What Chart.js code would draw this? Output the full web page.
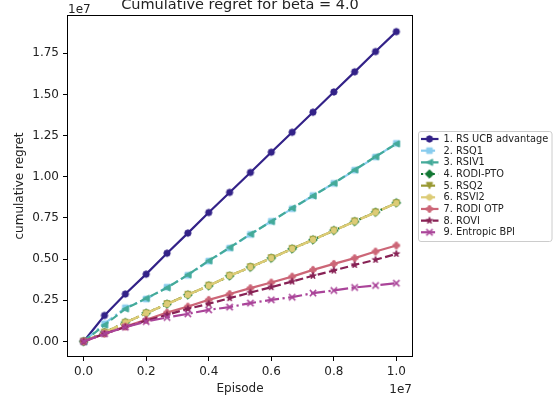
<!DOCTYPE html>
<html>
<head>
<meta charset="utf-8">
<script src="https://cdn.jsdelivr.net/npm/chart.js@4/dist/chart.umd.min.js"></script>
<style>
html,body{margin:0;padding:0;background:#fff;}
#wrap{width:557px;height:402px;position:relative;}
</style>
</head>
<body>
<div id="wrap"><canvas id="c" width="557" height="402"></canvas></div>
<script>
// ---- data (episodes and regret in units of 1e7) ----
const titleText = "Cumulative regret for beta = 4.0";
const xLabel = "Episode";
const yLabel = "cumulative regret";
const episodes = [0, 0.0667, 0.1333, 0.2, 0.2667, 0.3333, 0.4, 0.4667, 0.5333, 0.6, 0.6667, 0.7333, 0.8, 0.8667, 0.9333, 1.0];
const seriesNames = ["1. RS UCB advantage", "2. RSQ1", "3. RSIV1", "4. RODI-PTO", "5. RSQ2", "6. RSVI2", "7. RODI OTP", "8. ROVI", "9. Entropic BPI"];
const rsUcbAdvantage = [0, 0.158, 0.288, 0.409, 0.536, 0.658, 0.783, 0.905, 1.026, 1.149, 1.270, 1.392, 1.515, 1.637, 1.760, 1.881];
const rsq1 = [0, 0.108, 0.205, 0.258, 0.330, 0.402, 0.488, 0.567, 0.650, 0.730, 0.806, 0.886, 0.960, 1.040, 1.120, 1.203];
const rsiv1 = [0, 0.100, 0.198, 0.262, 0.326, 0.405, 0.490, 0.570, 0.652, 0.728, 0.810, 0.884, 0.961, 1.042, 1.122, 1.200];
const rodiPto = [0, 0.056, 0.115, 0.172, 0.227, 0.283, 0.338, 0.398, 0.451, 0.506, 0.562, 0.617, 0.674, 0.728, 0.785, 0.842];
const rsq2 = [0, 0.055, 0.114, 0.171, 0.228, 0.284, 0.339, 0.399, 0.452, 0.507, 0.563, 0.618, 0.673, 0.729, 0.784, 0.840];
const rsvi2 = [0, 0.055, 0.115, 0.172, 0.227, 0.283, 0.338, 0.399, 0.451, 0.506, 0.562, 0.617, 0.674, 0.728, 0.783, 0.840];
const rodiOtp = [0, 0.047, 0.091, 0.132, 0.176, 0.212, 0.253, 0.288, 0.324, 0.358, 0.394, 0.435, 0.471, 0.506, 0.546, 0.583];
const rovi = [0, 0.047, 0.087, 0.127, 0.162, 0.198, 0.229, 0.263, 0.297, 0.330, 0.364, 0.399, 0.431, 0.465, 0.496, 0.532];
const entropicBpi = [0, 0.047, 0.087, 0.121, 0.146, 0.168, 0.192, 0.209, 0.233, 0.253, 0.269, 0.294, 0.310, 0.328, 0.340, 0.354];
const xTicks = [0, 0.2, 0.4, 0.6, 0.8, 1.0];
const yTicks = [0, 0.25, 0.5, 0.75, 1.0, 1.25, 1.5, 1.75];

const seriesValues = [rsUcbAdvantage, rsq1, rsiv1, rodiPto, rsq2, rsvi2, rodiOtp, rovi, entropicBpi];
const colors = ["#332288", "#88CCEE", "#44AA99", "#117733", "#999933", "#DDCC77", "#CC6677", "#882255", "#AA4499"];
const markerShapes = ["circle", "square", "triLeft", "diamond", "triDown", "hexagon", "plus", "star", "x"];
const LW = 2.2;
const dashes = {
  solid: [],
  dashed: [8.1, 3.5],
  dashdot: [14.1, 3.5, 2.2, 3.5],
  dotted: [2.2, 3.6]
};
const lineStyles = ["solid", "dashdot", "dashed", "dotted", "dashdot", "dashdot", "solid", "dashed", "dashdot"];

function makeMarker(shape, color) {
  const S = 14;
  const c = document.createElement('canvas');
  c.width = S; c.height = S;
  const g = c.getContext('2d');
  g.translate(S / 2, S / 2);
  const r = 3.15;
  g.beginPath();
  const poly = (pts) => { pts.forEach((p, i) => i ? g.lineTo(p[0], p[1]) : g.moveTo(p[0], p[1])); g.closePath(); };
  if (shape === 'circle') g.arc(0, 0, r, 0, Math.PI * 2);
  else if (shape === 'square') g.rect(-2.8, -2.8, 5.6, 5.6);
  else if (shape === 'triLeft') poly([[-r, 0], [r, -r], [r, r]]);
  else if (shape === 'triDown') poly([[0, r], [-r, -r], [r, -r]]);
  else if (shape === 'diamond') poly([[0, -4.3], [4.3, 0], [0, 4.3], [-4.3, 0]]);
  else if (shape === 'hexagon') { const p = []; for (let k = 0; k < 6; k++) { const a = Math.PI / 2 + k * Math.PI / 3; p.push([r * Math.cos(a), -r * Math.sin(a)]); } poly(p); }
  else if (shape === 'plus') { const a = r, b = r * 0.38; poly([[-b, -a], [b, -a], [b, -b], [a, -b], [a, b], [b, b], [b, a], [-b, a], [-b, b], [-a, b], [-a, -b], [-b, -b]]); }
  else if (shape === 'star') { const p = []; for (let k = 0; k < 10; k++) { const rr = k % 2 ? r * 0.42 : r * 1.1; const a = Math.PI / 2 + k * Math.PI / 5; p.push([rr * Math.cos(a), -rr * Math.sin(a)]); } poly(p); }
  if (shape === 'x') {
    g.moveTo(-r, -r); g.lineTo(r, r); g.moveTo(-r, r); g.lineTo(r, -r);
    g.strokeStyle = color; g.lineWidth = 1.5; g.stroke();
  } else {
    g.fillStyle = color; g.fill();
    g.strokeStyle = color; g.lineWidth = 1.0; g.stroke();
  }
  return c;
}
const markers = markerShapes.map((s, i) => makeMarker(s, colors[i]));

const datasets = seriesNames.map((name, i) => ({
  label: name,
  data: episodes.map((x, j) => ({ x: x, y: seriesValues[i][j] })),
  borderColor: colors[i],
  backgroundColor: colors[i],
  borderWidth: LW,
  borderDash: dashes[lineStyles[i]],
  pointStyle: markers[i],
  pointRadius: 4,
  pointHoverRadius: 4,
  tension: 0,
  fill: false,
  order: seriesNames.length - 1 - i
}));

const FONT = "'DejaVu Sans', sans-serif";
const TXT = '#222';

const decor = {
  id: 'decor',
  afterDraw(chart) {
    const ctx = chart.ctx;
    const a = chart.chartArea;
    ctx.save();
    // frame
    ctx.strokeStyle = '#000';
    ctx.lineWidth = 1;
    ctx.strokeRect(Math.round(a.left) - 0.5, Math.round(a.top) - 0.5, Math.round(a.right - a.left) + 1, Math.round(a.bottom - a.top) + 1);
    ctx.fillStyle = TXT;
    // title
    ctx.font = "14.5px " + FONT;
    ctx.textAlign = 'center';
    ctx.textBaseline = 'alphabetic';
    ctx.fillText(titleText, (a.left + a.right) / 2, 8.5);
    // offset texts
    ctx.font = "12px " + FONT;
    ctx.textAlign = 'left';
    ctx.fillText("1e7", a.left, 12.5);
    ctx.textAlign = 'right';
    ctx.fillText("1e7", a.right, 393);
    // axis labels
    ctx.textAlign = 'center';
    ctx.fillText(xLabel, (a.left + a.right) / 2, 392);
    ctx.save();
    ctx.translate(22.5, (a.top + a.bottom) / 2);
    ctx.rotate(-Math.PI / 2);
    ctx.fillText(yLabel, 0, 0);
    ctx.restore();
    // legend
    const bx = 418.5, by = 131.5, bw = 133.5, bh = 110;
    ctx.beginPath();
    ctx.roundRect(bx, by, bw, bh, 2.5);
    ctx.fillStyle = 'rgba(255,255,255,0.8)';
    ctx.fill();
    ctx.strokeStyle = '#cccccc';
    ctx.lineWidth = 1;
    ctx.stroke();
    ctx.font = "9.8px " + FONT;
    ctx.textAlign = 'left';
    ctx.textBaseline = 'middle';
    seriesNames.forEach((name, i) => {
      const y = 139 + i * 11.66;
      ctx.save();
      ctx.strokeStyle = colors[i];
      ctx.lineWidth = LW;
      ctx.setLineDash(dashes[lineStyles[i]]);
      ctx.beginPath();
      ctx.moveTo(421, y);
      ctx.lineTo(438.5, y);
      ctx.stroke();
      ctx.restore();
      const m = markers[i];
      ctx.drawImage(m, 429.5 - m.width / 2, y - m.height / 2);
      ctx.fillStyle = TXT;
      ctx.fillText(name, 443.5, y + 0.5);
    });
    ctx.restore();
  }
};

new Chart(document.getElementById('c'), {
  type: 'line',
  data: { datasets: datasets },
  options: {
    responsive: false,
    animation: false,
    events: [],
    layout: { padding: { left: 0, right: 145, top: 16, bottom: 0 } },
    plugins: { legend: { display: false }, title: { display: false }, tooltip: { enabled: false } },
    scales: {
      x: {
        type: 'linear',
        min: -0.05,
        max: 1.05,
        afterFit: (s) => { s.height = 46; },
        afterBuildTicks: (s) => { s.ticks = xTicks.map(v => ({ value: v })); },
        grid: { display: true, drawOnChartArea: false, drawTicks: true, tickLength: 5, tickColor: '#000', tickWidth: 1 },
        border: { display: false },
        ticks: { autoSkip: false, maxRotation: 0, padding: 4, color: TXT, font: { family: FONT, size: 12 }, callback: (v) => Number(v).toFixed(1) }
      },
      y: {
        type: 'linear',
        min: -0.088,
        max: 1.976,
        afterFit: (s) => { s.width = 68; },
        afterBuildTicks: (s) => { s.ticks = yTicks.map(v => ({ value: v })); },
        grid: { display: true, drawOnChartArea: false, drawTicks: true, tickLength: 5, tickColor: '#000', tickWidth: 1 },
        border: { display: false },
        ticks: { autoSkip: false, padding: 4, color: TXT, font: { family: FONT, size: 12 }, callback: (v) => Number(v).toFixed(2) }
      }
    }
  },
  plugins: [decor]
});
</script>
</body>
</html>
